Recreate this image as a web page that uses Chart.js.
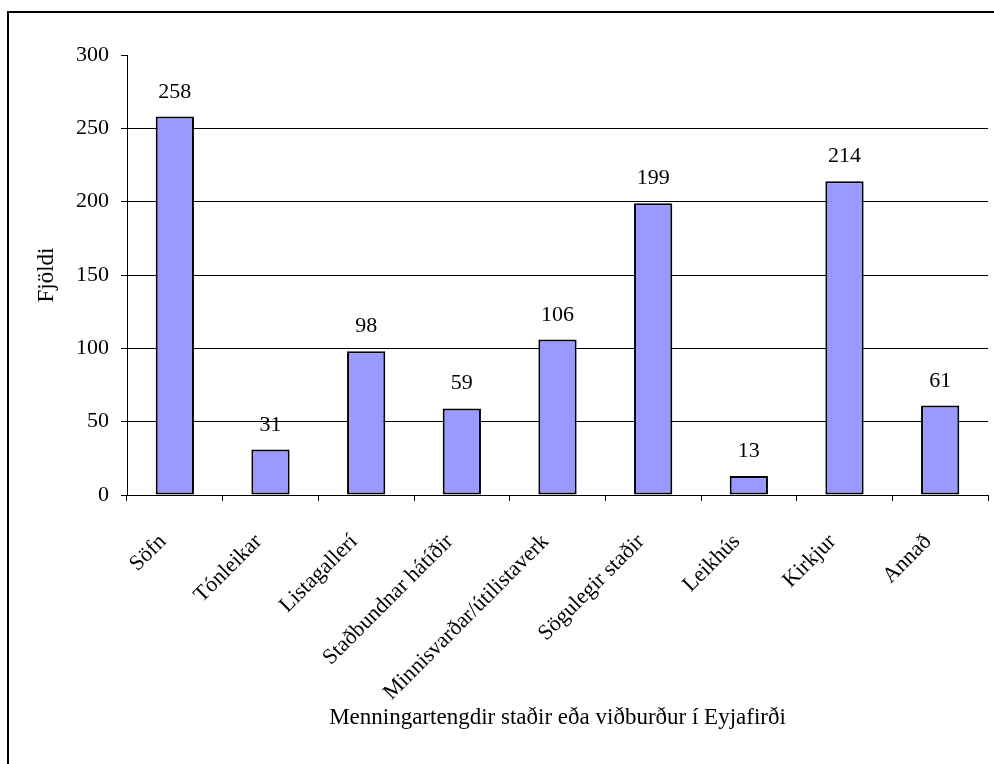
<!DOCTYPE html>
<html>
<head>
<meta charset="utf-8">
<script src="https://cdn.jsdelivr.net/npm/chart.js@4.4.1/dist/chart.umd.min.js"></script>
<style>
  html, body { margin: 0; padding: 0; background: #fff; overflow: hidden; }
  #wrap { position: relative; width: 994px; height: 764px; }
  #frame { position: absolute; left: 7px; top: 11px; width: 1100px; height: 1000px;
           border: 2px solid #000; box-sizing: border-box; pointer-events: none; }
  canvas { position: absolute; left: 0; top: 0; }
</style>
</head>
<body>
<div id="wrap">
  <canvas id="c" width="994" height="764"></canvas>
  <div id="frame"></div>
</div>
<script>
const categories = ['Söfn', 'Tónleikar', 'Listagallerí', 'Staðbundnar hátíðir',
  'Minnisvarðar/útilistaverk', 'Sögulegir staðir', 'Leikhús', 'Kirkjur', 'Annað'];
const counts = [258, 31, 98, 59, 106, 199, 13, 214, 61];
const yTicks = [0, 50, 100, 150, 200, 250, 300];
const xTitle = 'Menningartengdir staðir eða viðburður í Eyjafirði';
const yTitle = 'Fjöldi';

const FONT = '"Liberation Serif", "Times New Roman", serif';

// Writes each bar's value above it
const valueLabels = {
  id: 'valueLabels',
  afterDatasetsDraw(chart) {
    const ctx = chart.ctx;
    const meta = chart.getDatasetMeta(0);
    ctx.save();
    ctx.font = '22px ' + FONT;
    ctx.fillStyle = '#000';
    ctx.textAlign = 'center';
    ctx.textBaseline = 'alphabetic';
    meta.data.forEach((bar, i) => {
      ctx.fillText(String(counts[i]), bar.x, bar.y - 19);
    });
    ctx.restore();
  }
};

new Chart(document.getElementById('c'), {
  type: 'bar',
  data: {
    labels: categories,
    datasets: [{
      data: counts,
      backgroundColor: '#9999FF',
      borderColor: '#000',
      borderWidth: 2,
      borderSkipped: false,
      categoryPercentage: 1,
      barPercentage: 0.4
    }]
  },
  options: {
    responsive: false,
    animation: false,
    events: [],
    layout: { padding: { left: 0, top: 55, right: 6, bottom: 0 } },
    plugins: { legend: { display: false }, tooltip: { enabled: false } },
    scales: {
      x: {
        grid: { drawOnChartArea: false, drawTicks: true, tickLength: 6, tickColor: '#000', offset: true },
        border: { color: '#000', width: 1 },
        ticks: {
          color: '#000', font: { family: FONT, size: 22 },
          minRotation: 45, maxRotation: 45, padding: 28, labelOffset: -12, autoSkip: false
        },
        title: {
          display: true, text: xTitle, color: '#000',
          font: { family: FONT, size: 23 }, padding: { top: 0, bottom: 32 }
        },
        afterFit(scale) { scale.height = 764 - 495; }
      },
      y: {
        min: 0, max: 300,
        afterBuildTicks(scale) { scale.ticks = yTicks.map(v => ({ value: v })); },
        grid: {
          color: ctx => (ctx.tick && (ctx.tick.value === 300 || ctx.tick.value === 0)) ? 'rgba(0,0,0,0)' : '#000',
          lineWidth: 1, tickLength: 6, tickColor: '#000'
        },
        border: { color: '#000', width: 1 },
        ticks: { color: '#000', font: { family: FONT, size: 22 }, padding: 12 },
        title: {
          display: true, text: yTitle, color: '#000',
          font: { family: FONT, size: 23 }, padding: { top: 33, bottom: 0 }
        },
        afterFit(scale) { scale.width = 127; }
      }
    }
  },
  plugins: [valueLabels]
});
</script>
</body>
</html>
